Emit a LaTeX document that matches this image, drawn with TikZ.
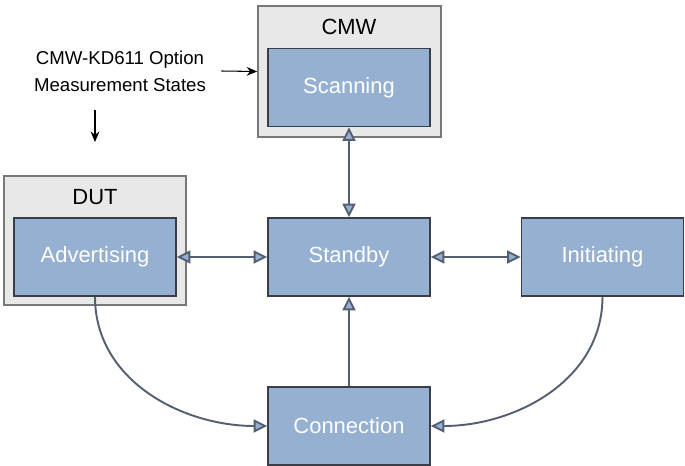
\documentclass[tikz,border=0pt]{standalone}
\usepackage{fontspec}
\setmainfont{Liberation Sans}
\usetikzlibrary{arrows.meta}
\definecolor{statefill}{RGB}{149,176,208}
\definecolor{stateline}{RGB}{58,62,70}
\definecolor{framefill}{RGB}{232,232,232}
\definecolor{framegray}{RGB}{120,120,120}
\definecolor{linkgray}{RGB}{84,96,114}

\begin{document}
\begin{tikzpicture}[
  state/.style={draw=stateline, line width=0.9pt, fill=statefill, minimum width=3.24cm,
              minimum height=1.56cm, text=white, font=\fontsize{12.5}{15}\selectfont, inner sep=0pt},
  frame/.style={draw=framegray, line width=0.9pt, fill=framefill, minimum width=3.66cm,
              minimum height=2.62cm, inner sep=0pt},
  title/.style={font=\fontsize{12.5}{15}\selectfont},
  note/.style={font=\fontsize{10.6}{15.5}\selectfont, align=center, inner sep=0pt},
  link/.style={<->, >={Triangle[fill=statefill, length=0.27cm, width=0.26cm]}, draw=linkgray, line width=1.1pt},
  oneway/.style={->, >={Triangle[fill=statefill, length=0.27cm, width=0.26cm]}, draw=linkgray, line width=1.1pt},
  pointer/.style={->, >={Stealth[length=6pt, width=5pt]}, semithick},
]
\useasboundingbox (0,0) rectangle (13.7,9.32);

% Frames
\node[frame] (cmw) at (6.99, 7.89) {};
\node[title] (cmwtitle) at (6.98, 8.78) {CMW};
\node[frame, minimum width=3.64cm, minimum height=2.58cm] (dut) at (1.90, 4.51) {};
\node[title] (duttitle) at (1.90, 5.38) {DUT};

% States
\node[state] (scan) at (6.98, 7.57) {Scanning};
\node[state] (adv)  at (1.90, 4.18) {Advertising};
\node[state] (stby) at (6.98, 4.18) {Standby};
\node[state] (init) at (12.05, 4.18) {Initiating};
\node[state] (conn) at (6.98, 0.80) {Connection};

% Legend
\node[note] (legend) at (2.40, 7.90) {CMW-KD611 Option\\Measurement States};
\coordinate (notetail) at (1.90, 7.12);
\coordinate (dutmark)  at (1.90, 6.48);

% Arrows
\draw[link] (scan) -- (stby);
\draw[link] (adv) -- (stby);
\draw[link] (stby) -- (init);
\draw[oneway] (conn) -- (stby);
\draw[oneway] (adv.south) to[out=-90, in=180] (conn.west);
\draw[oneway] (init.south) to[out=-90, in=0] (conn.east);

\draw[pointer] ([xshift=0.3cm]legend.east) -- (cmw.west);
\draw[pointer] (notetail) -- (dutmark);

\end{tikzpicture}
\end{document}
